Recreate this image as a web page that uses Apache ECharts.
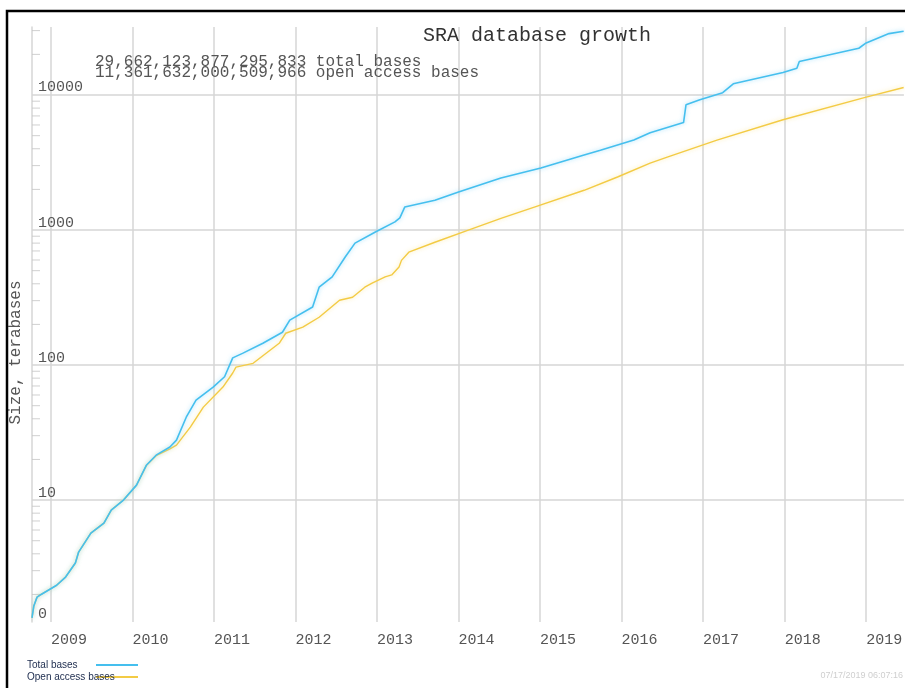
<!DOCTYPE html>
<html>
<head>
<meta charset="utf-8">
<title>SRA database growth</title>
<script src="https://cdn.jsdelivr.net/npm/echarts@6/dist/echarts.min.js"></script>
<style>
  html, body { margin: 0; padding: 0; background: #fff; }
  #chart { width: 905px; height: 688px; }
</style>
</head>
<body>
<div id="chart"></div>
<script>
// 年份（小数年）与数据量（TB）
const totalYears = [2008.768, 2008.79, 2008.83, 2008.88, 2009.07, 2009.18, 2009.30, 2009.34, 2009.49, 2009.65,
  2009.74, 2009.89, 2010.05, 2010.17, 2010.29, 2010.46, 2010.54, 2010.66, 2010.78, 2010.99,
  2011.13, 2011.23, 2011.35, 2011.60, 2011.84, 2011.93, 2012.21, 2012.29, 2012.45, 2012.61,
  2012.73, 2012.98, 2013.22, 2013.28, 2013.34, 2013.71, 2014.00, 2014.52, 2015.01, 2015.54,
  2015.74, 2016.15, 2016.35, 2016.76, 2016.78, 2016.79, 2016.96, 2017.24, 2017.37, 2017.98,
  2018.15, 2018.18, 2018.91, 2019.00, 2019.28, 2019.46];
const totalTB = [1.34, 1.64, 1.91, 2.0, 2.34, 2.69, 3.42, 4.12, 5.69, 6.75,
  8.43, 10.0, 12.9, 18.1, 21.5, 24.7, 27.8, 41.1, 55.0, 68.7,
  81.9, 113, 122, 145, 175, 215, 269, 377, 450, 631,
  800, 967, 1150, 1230, 1480, 1660, 1910, 2430, 2880, 3600,
  3900, 4640, 5250, 6250, 6370, 8460, 9240, 10400, 12100, 14700,
  15800, 17700, 22200, 24300, 28500, 29662];

const openYears = [2008.768, 2008.79, 2008.83, 2008.88, 2009.07, 2009.18, 2009.30, 2009.34, 2009.49, 2009.65,
  2009.74, 2009.89, 2010.05, 2010.17, 2010.29, 2010.46, 2010.54, 2010.71, 2010.87, 2011.11,
  2011.23, 2011.27, 2011.48, 2011.80, 2011.88, 2012.09, 2012.29, 2012.54, 2012.70, 2012.85,
  2012.94, 2013.10, 2013.18, 2013.27, 2013.30, 2013.39, 2013.71, 2014.12, 2014.52, 2014.93,
  2015.54, 2015.95, 2016.35, 2016.56, 2017.17, 2017.98, 2019.00, 2019.46];
const openTB = [1.34, 1.64, 1.91, 2.0, 2.34, 2.69, 3.42, 4.12, 5.69, 6.75,
  8.43, 10.0, 12.9, 18.0, 21.3, 23.9, 25.5, 34.7, 48.8, 68.7,
  87.3, 96.5, 103, 145, 172, 191, 226, 302, 318, 377,
  404, 450, 465, 532, 596, 685, 812, 1000, 1220, 1480,
  1970, 2470, 3130, 3470, 4640, 6560, 9650, 11361];

const yearTicks = [2009, 2010, 2011, 2012, 2013, 2014, 2015, 2016, 2017, 2018, 2019];
// 对数轴的次刻度（2..9 × 10^n）
const minorTickValues = [2, 3, 4, 5, 6, 7, 8, 9, 20, 30, 40, 50, 60, 70, 80, 90,
  200, 300, 400, 500, 600, 700, 800, 900, 2000, 3000, 4000, 5000, 6000, 7000, 8000, 9000,
  20000, 30000];

const xMin = 2008.768, xMax = 2019.463;
const yMin = 1.25, yMax = 31900;
const mono = "'Liberation Mono', 'DejaVu Sans Mono', monospace";

const chart = echarts.init(document.getElementById('chart'));
chart.setOption({
  animation: false,
  backgroundColor: '#fff',
  title: [
    {
      text: 'SRA database growth',
      left: 423, top: 26, padding: 0,
      textStyle: { fontFamily: mono, fontSize: 20, fontWeight: 'normal', color: '#333' }
    },
    {
      text: '29,662,123,877,295,833 total bases\n11,361,632,000,509,966 open access bases',
      left: 95, top: 56, padding: 0,
      textStyle: { fontFamily: mono, fontSize: 16, lineHeight: 11, fontWeight: 'normal', color: '#555' }
    },
    {
      text: '07/17/2019 06:07:16',
      right: 2, top: 671, padding: 0,
      textStyle: { fontSize: 9, fontWeight: 'normal', color: '#cfcfcf' }
    }
  ],
  legend: {
    data: ['Total bases', 'Open access bases'],
    orient: 'vertical',
    left: 27, top: 660, padding: 0,
    align: 'right',
    icon: 'rect',
    itemWidth: 42, itemHeight: 2, itemGap: 2,
    selectedMode: false,
    formatter: '{a|{name}}',
    textStyle: {
      rich: {
        a: { width: 64, align: 'left', fontFamily: "'Liberation Sans', Arial, sans-serif", fontSize: 10, color: '#1c2b4d' }
      }
    }
  },
  grid: { left: 28, right: 0, top: 27, bottom: 66, containLabel: false },
  xAxis: {
    type: 'value',
    min: xMin, max: xMax,
    axisLine: { show: false },
    axisTick: { show: false, customValues: yearTicks },
    axisLabel: {
      customValues: yearTicks,
      align: 'left', margin: 11,
      fontFamily: mono, fontSize: 15, color: '#555',
      formatter: function (v) { return String(Math.round(v)); }
    },
    splitLine: { show: true, lineStyle: { color: '#d6d6d6', width: 1.5 } }
  },
  yAxis: {
    type: 'log',
    logBase: 10,
    min: yMin, max: yMax,
    name: 'Size, terabases',
    nameLocation: 'middle',
    nameGap: 8,
    nameTextStyle: { fontFamily: mono, fontSize: 16, color: '#555', padding: [0, 56, 0, 0] },
    axisLine: { show: true, lineStyle: { color: '#d6d6d6', width: 1.5 } },
    axisTick: { show: false },
    axisLabel: {
      inside: true, margin: 6,
      verticalAlign: 'bottom',
      fontFamily: mono, fontSize: 15, color: '#555',
      formatter: function (v) {
        if (v < 2) return '0';
        const p = Math.log10(v);
        return Math.abs(p - Math.round(p)) < 1e-6 ? String(Math.round(v)) : '';
      }
    },
    splitLine: { show: true, showMinLine: false, showMaxLine: false, lineStyle: { color: '#d6d6d6', width: 1.5 } }
  },
  graphic: [
    {
      type: 'rect',
      shape: { x: 7, y: 11, width: 930, height: 720 },
      style: { fill: 'none', stroke: '#000', lineWidth: 2.5 },
      silent: true
    }
  ],
  series: [
    {
      name: 'Total bases',
      type: 'line',
      showSymbol: false,
      data: totalYears.map((y, i) => [y, totalTB[i]]),
      lineStyle: { color: '#45bfee', width: 1.6, shadowColor: 'rgba(120,210,250,0.7)', shadowBlur: 4 },
      itemStyle: { color: '#45bfee' },
      z: 3
    },
    {
      name: 'Open access bases',
      type: 'line',
      showSymbol: false,
      data: openYears.map((y, i) => [y, openTB[i]]),
      lineStyle: { color: '#f3cb45', width: 1.4, shadowColor: 'rgba(250,225,130,0.7)', shadowBlur: 4 },
      itemStyle: { color: '#f3cb45' },
      z: 2
    },
    {
      name: 'minor',
      type: 'scatter',
      silent: true,
      clip: false,
      symbol: 'rect',
      symbolSize: [8, 1],
      symbolOffset: [4, 0],
      itemStyle: { color: '#c4c4c4' },
      data: minorTickValues.map(v => [xMin, v]),
      z: 1
    }
  ]
});
</script>
</body>
</html>
